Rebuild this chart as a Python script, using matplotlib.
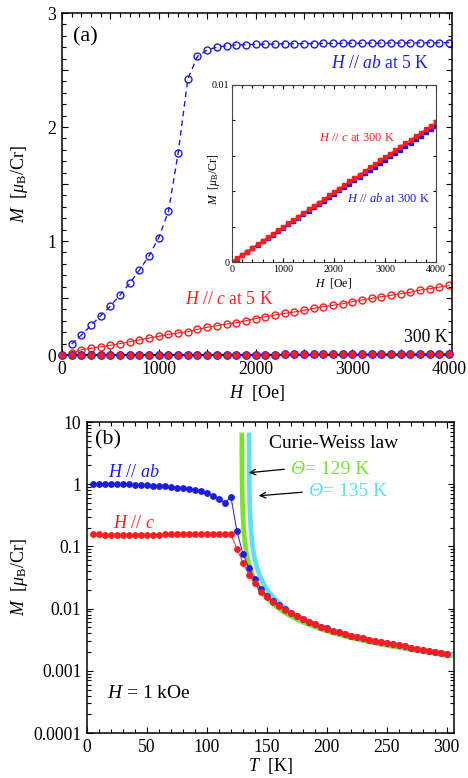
import numpy as np
import matplotlib
matplotlib.use('Agg')
import matplotlib.pyplot as plt
from matplotlib.ticker import MultipleLocator, FixedLocator, FuncFormatter, LogLocator, NullFormatter

plt.rcParams['font.family'] = ['Liberation Serif', 'DejaVu Serif']
plt.rcParams['mathtext.fontset'] = 'custom'
plt.rcParams['mathtext.rm'] = 'Liberation Serif'
plt.rcParams['mathtext.it'] = 'Liberation Serif:italic'
plt.rcParams['mathtext.bf'] = 'Liberation Serif:bold'

BLUE = '#1c1ce0'
RED = '#ff1c1c'
GREEN = '#7ae22c'
CYAN = '#5fdff5'

# ---------------- panel (a) data ----------------
H_5K = list(range(100, 4001, 100))
M_ab_5K = [0.096, 0.175, 0.26, 0.345, 0.43, 0.526, 0.63, 0.745, 0.87, 1.03,
           1.26, 1.77, 2.42, 2.62, 2.675, 2.70, 2.713,
           2.72, 2.722, 2.725, 2.727, 2.728, 2.73, 2.73, 2.731, 2.732, 2.733,
           2.733, 2.734, 2.735, 2.735, 2.736, 2.736, 2.737, 2.737, 2.738,
           2.738, 2.739, 2.739, 2.74]
M_c_5K = [0.015, 0.047, 0.058, 0.073, 0.085, 0.10, 0.117, 0.132, 0.149, 0.164,
          0.181, 0.193, 0.205, 0.225, 0.243, 0.257, 0.272,
          0.283, 0.301, 0.319, 0.336, 0.351, 0.365, 0.377, 0.392, 0.409, 0.424,
          0.436, 0.450, 0.468, 0.482, 0.497, 0.512, 0.523, 0.538, 0.550, 0.570,
          0.582, 0.596, 0.611]

H_300K = list(range(0, 4001, 100))
M_c_300K = [0, 0.0002, 0.0004, 0.00059, 0.00079, 0.00099, 0.00119, 0.00139,
            0.00159, 0.00178, 0.00198, 0.00218, 0.00238, 0.00257, 0.00277,
            0.00297, 0.00316, 0.00336, 0.00356, 0.00376, 0.00396, 0.00415,
            0.00435, 0.00455, 0.00474, 0.00494, 0.00514, 0.00534, 0.00553,
            0.00575, 0.00593, 0.00612, 0.00632, 0.00652, 0.00672, 0.00691,
            0.00711, 0.0073, 0.0075, 0.0077, 0.0079]
M_ab_300K = [0, 0.00019, 0.00039, 0.00058, 0.00077, 0.00096, 0.00116, 0.00135,
             0.00154, 0.00173, 0.00193, 0.00212, 0.00231, 0.0025, 0.0027,
             0.00289, 0.00308, 0.00327, 0.00347, 0.00366, 0.00385, 0.00404,
             0.00424, 0.00443, 0.00462, 0.00481, 0.00501, 0.0052, 0.00539,
             0.00558, 0.00578, 0.00597, 0.00616, 0.00635, 0.00655, 0.00674,
             0.00693, 0.00712, 0.00732, 0.00751, 0.0077]

# ---------------- panel (b) data ----------------
T = list(range(5, 301, 5))
M_ab_T = [1.0, 1.0, 1.0, 1.0, 0.99, 0.99, 0.99, 0.98, 0.975, 0.965,
          0.952, 0.94, 0.929, 0.906, 0.884, 0.862, 0.841, 0.81, 0.771, 0.725,
          0.656, 0.58, 0.50, 0.625, 0.176, 0.076, 0.045, 0.0295, 0.021, 0.0157,
          0.0133, 0.0114, 0.0098, 0.0086, 0.0076, 0.0068, 0.0061, 0.0056, 0.0051, 0.0048,
          0.0044, 0.00415, 0.0039, 0.00367, 0.00349, 0.00332, 0.00316, 0.00301, 0.00287, 0.00276,
          0.00266, 0.00256, 0.00247, 0.00236, 0.00225, 0.00216, 0.00207, 0.00198, 0.00192, 0.00186]
M_c_T = [0.160, 0.156, 0.152, 0.150, 0.150, 0.150, 0.150, 0.152, 0.152, 0.152,
         0.154, 0.154, 0.156, 0.156, 0.158, 0.158, 0.160, 0.160, 0.160, 0.160,
         0.160, 0.158, 0.158, 0.156, 0.092, 0.055, 0.035, 0.0256, 0.0185, 0.0152,
         0.013, 0.0112, 0.0096, 0.0085, 0.0075, 0.00675, 0.0061, 0.00558, 0.00513, 0.00478,
         0.00442, 0.00415, 0.0039, 0.00367, 0.00349, 0.00332, 0.00316, 0.00301, 0.00286, 0.00276,
         0.00266, 0.00257, 0.00247, 0.00235, 0.00224, 0.00216, 0.00208, 0.00199, 0.00194, 0.00188]

# Curie-Weiss law parameters (M = C / (T - Theta))
theta_green = 129.0
theta_cyan = 135.0
C_cw = 0.31

W, Hpx = 468, 778
fig = plt.figure(figsize=(W / 100, Hpx / 100), dpi=100)


def fx(px):
    return px / W


def fy(py):
    return 1 - py / Hpx


def rect(l, t, r, b):
    return [fx(l), fy(b), fx(r) - fx(l), fy(t) - fy(b)]


def style_axes(ax, lw=1.1, maj=4.5, mnr=2.6, size=12.7):
    for s in ax.spines.values():
        s.set_linewidth(lw)
    ax.tick_params(which='both', direction='in', top=True, right=True,
                   labelsize=size, width=0.8)
    ax.tick_params(which='major', length=maj, pad=4)
    ax.tick_params(which='minor', length=mnr)


# ---------------- panel (a) ----------------
axa = fig.add_axes(rect(62, 13, 452, 355))
axa.plot(H_5K, M_ab_5K, linestyle=(0, (4, 3)), color=BLUE, lw=1.0,
         marker='o', ms=5, mfc='none', mec=BLUE, mew=1.0)
axa.plot(H_5K, M_c_5K, linestyle='-', color=RED, lw=0.8,
         marker='o', ms=5, mfc='none', mec=RED, mew=1.0)
axa.plot(H_300K, M_ab_300K, '-', color='black', lw=1.0, zorder=4, clip_on=False)
axa.plot(H_300K, M_ab_300K, 'o', color=BLUE, ms=5.3, mec=BLUE, zorder=5, clip_on=False)
axa.plot(H_300K, M_c_300K, 'o', color=RED, ms=3.9, mec=RED, zorder=6, clip_on=False)
axa.set_xlim(0, 4030)
axa.set_ylim(0, 3)
axa.xaxis.set_major_locator(MultipleLocator(500))
axa.xaxis.set_minor_locator(MultipleLocator(100))
axa.xaxis.set_major_formatter(FuncFormatter(lambda v, p: f'{int(round(v))}' if round(v) % 1000 == 0 else ''))
axa.yaxis.set_major_locator(MultipleLocator(0.5))
axa.yaxis.set_minor_locator(MultipleLocator(0.1))
axa.yaxis.set_major_formatter(FuncFormatter(lambda v, p: f'{int(round(v))}' if abs(v - round(v)) < 1e-6 else ''))
style_axes(axa)
axa.set_xlabel(r'$H$  [Oe]', fontsize=13)
axa.set_ylabel(r'$M$  [$\mu_{\rm B}$/Cr]', fontsize=13)
axa.xaxis.set_label_coords(0.5, -0.082)
axa.yaxis.set_label_coords(-0.082, 0.5)

fig.text(fx(73), fy(37), '(a)', fontsize=16, ha='left', va='center')
fig.text(fx(331), fy(63), r'$H$ // $ab$ at 5 K', color=BLUE, fontsize=12.7, ha='left', va='center')
fig.text(fx(185), fy(300), r'$H$ // $c$ at 5 K', color=RED, fontsize=12.7, ha='left', va='center')
fig.text(fx(447), fy(337), '300 K', color='black', fontsize=12.7, ha='right', va='center')

# inset
axi = fig.add_axes(rect(232, 85, 436, 262))
axi.plot(H_300K, M_ab_300K, '-', color=BLUE, lw=1.3, marker='s', ms=2.2, mec=BLUE)
axi.errorbar(H_300K, M_c_300K, yerr=0.00012, fmt='-s', color=RED, lw=0.7,
             ms=2.4, elinewidth=1.0, capsize=0)
axi.set_xlim(0, 4000)
axi.set_ylim(0, 0.01)
axi.xaxis.set_major_locator(MultipleLocator(1000))
axi.xaxis.set_minor_locator(MultipleLocator(200))
axi.yaxis.set_major_locator(FixedLocator([0, 0.01]))
axi.yaxis.set_major_formatter(FuncFormatter(lambda v, p: '0' if v == 0 else '0.01'))
axi.yaxis.set_minor_locator(MultipleLocator(0.002))
style_axes(axi, lw=0.8, maj=3, mnr=2, size=7.2)
axi.tick_params(which='major', pad=2)
for s in axi.spines.values():
    s.set_color('#444444')
axi.set_xlabel(r'$H$  [Oe]', fontsize=8.5)
axi.set_ylabel(r'$M$  [$\mu_{\rm B}$/Cr]', fontsize=8.5)
axi.xaxis.set_label_coords(0.5, -0.08)
axi.yaxis.set_label_coords(-0.05, 0.47)
fig.text(fx(319), fy(138), r'$H$ // $c$ at 300 K', color=RED, fontsize=9, ha='left', va='center')
fig.text(fx(347), fy(199), r'$H$ // $ab$ at 300 K', color=BLUE, fontsize=9, ha='left', va='center')

# ---------------- panel (b) ----------------
axb = fig.add_axes(rect(87, 422, 454, 733))
Tg = np.linspace(theta_green + 0.05, 306, 800)
Tc = np.linspace(theta_cyan + 0.05, 306, 800)
axb.plot(Tg, C_cw / (Tg - theta_green), color=GREEN, lw=3.4, zorder=2)
axb.plot(Tc, C_cw / (Tc - theta_cyan), color=CYAN, lw=3.4, zorder=2)
axb.plot(T, M_ab_T, '-o', color=BLUE, lw=0.7, ms=3.9, zorder=3)
axb.plot(T, M_c_T, '-o', color=RED, lw=0.7, ms=3.9, zorder=4)
axb.set_yscale('log')
axb.set_xlim(0, 306)
axb.set_ylim(1e-4, 10)
axb.xaxis.set_major_locator(MultipleLocator(50))
axb.xaxis.set_minor_locator(MultipleLocator(10))
axb.yaxis.set_major_locator(LogLocator(base=10, numticks=10))
axb.yaxis.set_minor_locator(LogLocator(base=10, subs=np.arange(2, 10), numticks=20))
axb.yaxis.set_minor_formatter(NullFormatter())
axb.yaxis.set_major_formatter(FuncFormatter(lambda v, p: f'{v:g}' if v >= 1 else f'{v:.{int(round(-np.log10(v)))}f}'))
style_axes(axb)
axb.set_xlabel(r'$T$  [K]', fontsize=13)
axb.set_ylabel(r'$M$  [$\mu_{\rm B}$/Cr]', fontsize=13)
axb.xaxis.set_label_coords(0.5, -0.074)
axb.yaxis.set_label_coords(-0.155, 0.5)

fig.text(fx(95), fy(440), '(b)', fontsize=16, ha='left', va='center')
fig.text(fx(108), fy(473), r'$H$ // $ab$', color=BLUE, fontsize=13, ha='left', va='center')
fig.text(fx(113), fy(523), r'$H$ // $c$', color=RED, fontsize=13, ha='left', va='center')
fig.text(fx(269), fy(443), 'Curie-Weiss law', color='black', fontsize=14, ha='left', va='center')
fig.text(fx(290), fy(470), 'Θ', color=GREEN, fontsize=14, style='italic', ha='left', va='center')
fig.text(fx(305), fy(470), '= 129 K', color=GREEN, fontsize=14, ha='left', va='center')
fig.text(fx(308), fy(492), 'Θ', color=CYAN, fontsize=14, style='italic', ha='left', va='center')
fig.text(fx(323), fy(492), '= 135 K', color=CYAN, fontsize=14, ha='left', va='center')
fig.text(fx(107), fy(693), r'$H$ = 1 kOe', color='black', fontsize=14, ha='left', va='center')
axb.annotate('', xy=(fx(246), fy(473)), xytext=(fx(287), fy(469)),
             xycoords='figure fraction', textcoords='figure fraction',
             arrowprops=dict(arrowstyle='->', color='black', lw=0.9))
axb.annotate('', xy=(fx(256), fy(496)), xytext=(fx(305), fy(492)),
             xycoords='figure fraction', textcoords='figure fraction',
             arrowprops=dict(arrowstyle='->', color='black', lw=0.9))

fig.savefig('out.png', dpi=100)
